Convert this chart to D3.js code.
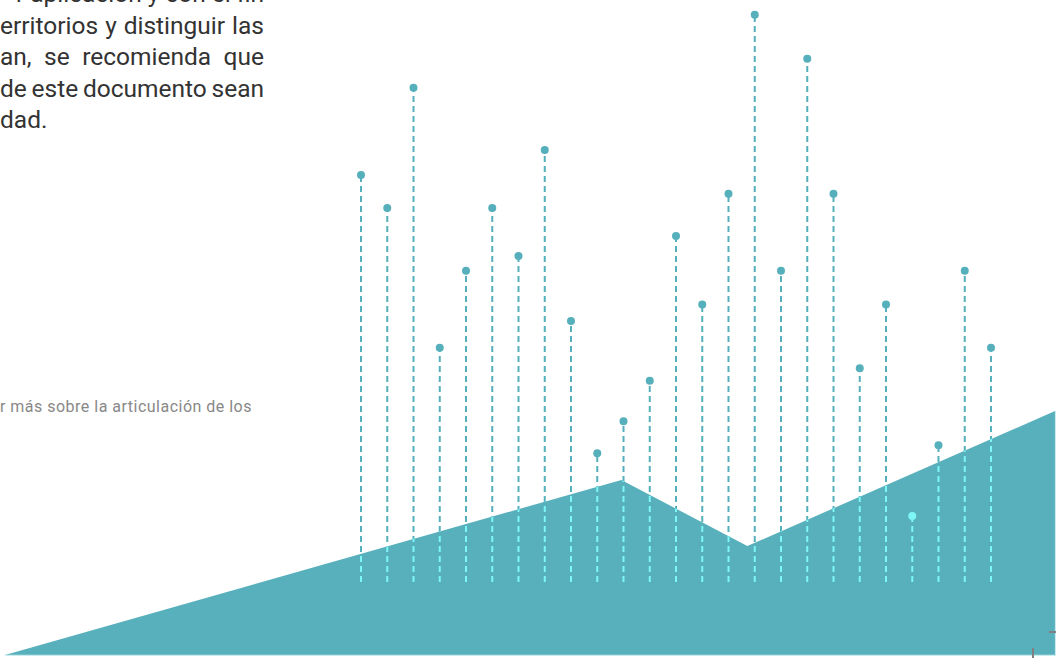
<!DOCTYPE html>
<html>
<head>
<meta charset="utf-8">
<script src="https://cdn.jsdelivr.net/npm/d3@7"></script>
<style>
  body { margin: 0; overflow: hidden; background: #fff; }
</style>
</head>
<body>
<script>
const wSvg = 1056;
const hSvg = 658;

// lollipops
const categories = ["c01", "c02", "c03", "c04", "c05", "c06", "c07", "c08", "c09", "c10",
  "c11", "c12", "c13", "c14", "c15", "c16", "c17", "c18", "c19", "c20",
  "c21", "c22", "c23", "c24", "c25"];
const values = [71.4, 65.6, 86.7, 41.1, 54.6, 65.6, 57.2, 75.8, 45.8, 22.6,
  28.2, 35.3, 60.7, 48.7, 68.1, 99.5, 54.6, 91.8, 68.1, 37.5,
  48.7, 11.6, 24.0, 54.6, 41.1];

// background area (x in % of width)
const areaX = [0, 58.7, 70.7, 100];
const areaY = [-12.8, 17.9, 6.3, 30.0];
const areaBase = -12.8;

// paragraph text
const paragraphLines = [
  "r aplicación y con el fin",
  "erritorios y distinguir las",
  "an, se recomienda que",
  "de este documento sean",
  "dad."
];
const noteText = "r más sobre la articulación de los";

const teal = "#56b0bb";
const cyan = "#7ef6f6";

let xScale = d3.scalePoint(categories, [361, 991]);
let yScale = d3.scaleLinear([0, 100], [582, 12]);
let xArea = d3.scaleLinear([0, 100], [5, 1055]);

let svg = d3.select("body")
  .append("svg")
  .attr("width", wSvg)
  .attr("height", hSvg);

let areaData = areaX.map((x, i) => ({ x: x, y: areaY[i] }));
let areaGen = d3.area()
  .x(d => xArea(d.x))
  .y0(yScale(areaBase))
  .y1(d => yScale(d.y));

svg.append("defs")
  .append("clipPath")
  .attr("id", "inside")
  .append("path")
  .attr("d", areaGen(areaData));

svg.append("path")
  .attr("d", areaGen(areaData))
  .attr("fill", "#57b0bb");

// light edges of the area
svg.append("line")
  .attr("x1", xArea(0)).attr("x2", xArea(100))
  .attr("y1", yScale(areaBase) + 0.5).attr("y2", yScale(areaBase) + 0.5)
  .attr("stroke", "#c9ecef").attr("stroke-width", 1.2);
svg.append("line")
  .attr("x1", xArea(100) + 0.5).attr("x2", xArea(100) + 0.5)
  .attr("y1", yScale(areaY[3])).attr("y2", yScale(areaBase) + 1)
  .attr("stroke", "#c9ecef").attr("stroke-width", 1.2);

let lollipops = categories.map((c, i) => ({ cat: c, value: values[i] }));

function drawLollipops(group, color) {
  group.selectAll("line")
    .data(lollipops)
    .enter()
    .append("line")
    .attr("x1", d => xScale(d.cat))
    .attr("x2", d => xScale(d.cat))
    .attr("y1", yScale(0))
    .attr("y2", d => yScale(d.value))
    .attr("stroke", color)
    .attr("stroke-width", 2)
    .attr("stroke-dasharray", "6,4");

  group.selectAll("circle")
    .data(lollipops)
    .enter()
    .append("circle")
    .attr("cx", d => xScale(d.cat))
    .attr("cy", d => yScale(d.value))
    .attr("r", 4)
    .attr("fill", color);
}

drawLollipops(svg.append("g"), teal);
drawLollipops(svg.append("g").attr("clip-path", "url(#inside)"), cyan);

// crop marks
svg.append("line")
  .attr("x1", 1049).attr("x2", 1056).attr("y1", 632).attr("y2", 632)
  .attr("stroke", "#808080").attr("stroke-width", 2);
svg.append("line")
  .attr("x1", 1033).attr("x2", 1033).attr("y1", 648).attr("y2", 658)
  .attr("stroke", "#808080").attr("stroke-width", 2);

// stretch a line of text so that it starts at x = left
function justify(t, left, right) {
  let line = t.text();
  let len = t.node().getComputedTextLength();
  let spaces = line.split(" ").length - 1;
  if (spaces > 0) t.attr("word-spacing", ((right - left - len) / spaces) + "px");
}

// paragraph, justified to x = 0..264
let para = svg.append("g")
  .attr("font-family", "Roboto, sans-serif")
  .attr("font-size", "24.5px")
  .attr("fill", "#333333");

paragraphLines.forEach((line, i) => {
  let last = i === paragraphLines.length - 1;
  let t = para.append("text")
    .attr("x", last ? 0 : 264)
    .attr("y", 2 + i * 31.5)
    .attr("text-anchor", last ? "start" : "end")
    .text(line);
  if (i > 0 && !last) justify(t, 0, 264);
});

let note = svg.append("text")
  .attr("x", 252)
  .attr("y", 412)
  .attr("text-anchor", "end")
  .attr("font-family", "Roboto, sans-serif")
  .attr("font-size", "16px")
  .attr("letter-spacing", "0.5px")
  .attr("fill", "#888888")
  .text(noteText);
justify(note, 0, 252);
</script>
</body>
</html>
